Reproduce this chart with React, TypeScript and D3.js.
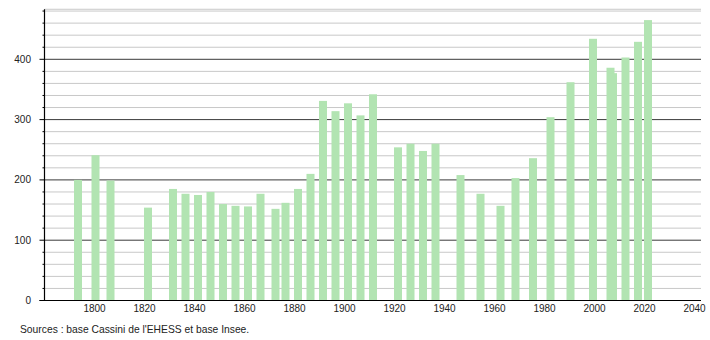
import React from "react";
import * as d3 from "d3";

const years = [1793, 1800, 1806, 1821, 1831, 1836, 1841, 1846, 1851, 1856, 1861, 1866, 1872, 1876, 1881, 1886, 1891, 1896, 1901, 1906, 1911, 1921, 1926, 1931, 1936, 1946, 1954, 1962, 1968, 1975, 1982, 1990, 1999, 2006, 2007, 2012, 2017, 2021];
const population = [200, 241, 199, 154, 185, 177, 175, 180, 160, 157, 156, 177, 152, 162, 185, 210, 331, 314, 327, 307, 342, 254, 260, 248, 260, 208, 177, 157, 203, 236, 304, 362, 434, 386, 377, 403, 429, 465];
const xTicks = [1800, 1820, 1840, 1860, 1880, 1900, 1920, 1940, 1960, 1980, 2000, 2020, 2040];
const yMajor = [0, 100, 200, 300, 400];
const yMinor = d3.range(20, 500, 20).filter((v) => v % 100 !== 0);
const source = "Sources : base Cassini de l'EHESS et base Insee.";

export default function App() {
  const W = 710, H = 340;
  const x = d3.scaleLinear().domain([1780, 2043]).range([44.5, 702]);
  const y = d3.scaleLinear().domain([0, 100]).range([300.5, 240.2]);
  const x0 = 44.5, x1 = 701;
  const yTop = y(483);
  const barW = 8;
  const font = "'Liberation Sans', Arial, sans-serif";
  return (
    <svg width={W} height={H} style={{ position: "absolute", left: 0, top: 0 }} fontFamily={font}>
      <rect x={0} y={0} width={W} height={H} fill="#fff" />
      {yMinor.map((v) => (
        <line key={"gm" + v} x1={x0} x2={x1} y1={y(v)} y2={y(v)} stroke="#c8c8c8" strokeWidth={1} />
      ))}
      {yMajor.filter((v) => v > 0).map((v) => (
        <line key={"gM" + v} x1={x0} x2={x1} y1={y(v)} y2={y(v)} stroke="#3a3a3a" strokeWidth={1} />
      ))}
      <line x1={x0} x2={x1} y1={yTop} y2={yTop} stroke="#c8c8c8" strokeWidth={1} />
      {years.map((yr, i) => (
        <rect key={yr} x={x(yr) + 1 - barW / 2} y={y(population[i])} width={barW} height={y(0) - y(population[i])} fill="#b2e4b2" />
      ))}
      <line x1={x0} x2={x0} y1={yTop} y2={y(0)} stroke="#000" strokeWidth={1.2} />
      <line x1={x0 - 5} x2={x1} y1={y(0)} y2={y(0)} stroke="#000" strokeWidth={1.2} />
      {yMinor.map((v) => (
        <line key={"tm" + v} x1={x0 - 2} x2={x0} y1={y(v)} y2={y(v)} stroke="#000" strokeWidth={1} />
      ))}
      {yMajor.map((v) => (
        <line key={"tM" + v} x1={x0 - 5} x2={x0} y1={y(v)} y2={y(v)} stroke="#000" strokeWidth={1} />
      ))}
      {yMajor.map((v) => (
        <text key={"yl" + v} x={31} y={y(v)} dy="0.35em" textAnchor="end" fontSize={10} fill="#222">{v}</text>
      ))}
      {xTicks.map((t) => (
        <text key={"xl" + t} x={x(t)} y={311.5} textAnchor="middle" fontSize={10} fill="#222">{t}</text>
      ))}
      <text x={20} y={332.5} fontSize={10.3} fill="#222">{source}</text>
    </svg>
  );
}
